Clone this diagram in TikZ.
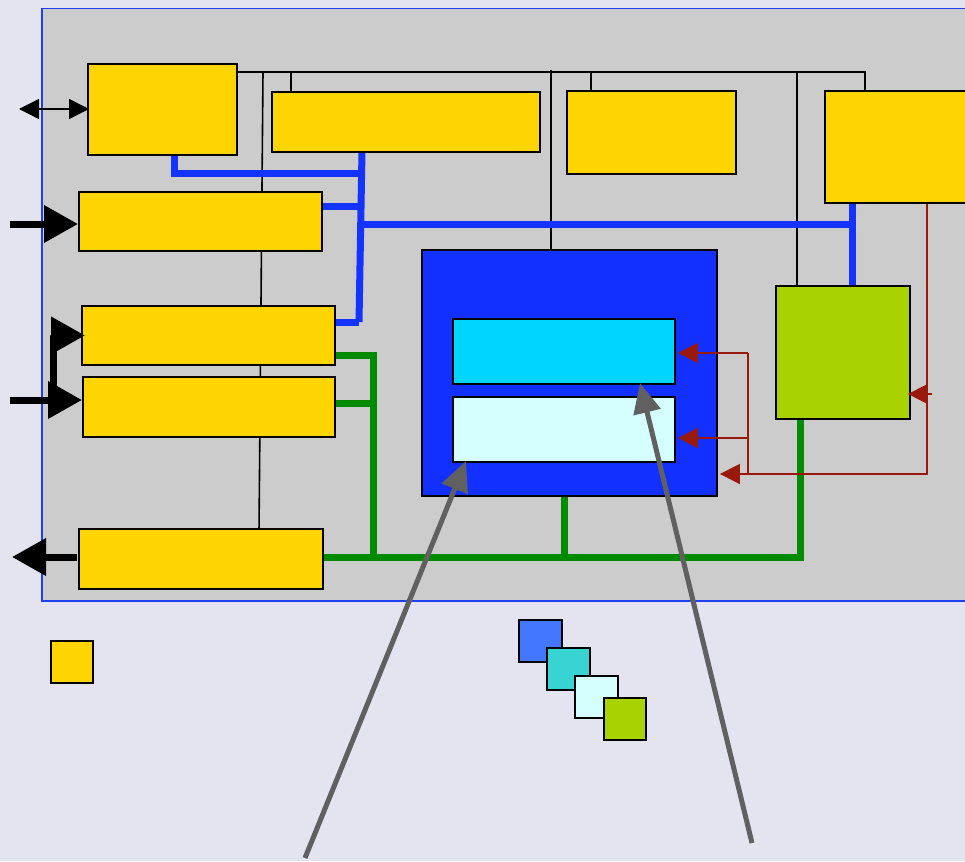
\documentclass[tikz,border=0pt]{standalone}
\usetikzlibrary{arrows.meta,calc}
\definecolor{bg}{HTML}{E4E4F0}
\definecolor{panelgrey}{HTML}{CCCCCC}
\definecolor{panelblue}{HTML}{2040F0}
\definecolor{yel}{HTML}{FFD500}
\definecolor{bigblue}{HTML}{1230FF}
\definecolor{cyanbox}{HTML}{00D5FF}
\definecolor{palecyan}{HTML}{D5FFFF}
\definecolor{lime}{HTML}{A8D200}
\definecolor{busblue}{HTML}{1433FF}
\definecolor{busgreen}{HTML}{008A00}
\definecolor{darkred}{HTML}{991A0A}
\definecolor{arrowgrey}{HTML}{606060}
\definecolor{legblue}{HTML}{4477FF}
\definecolor{legteal}{HTML}{38D4D4}
\begin{document}
\begin{tikzpicture}[x=1pt,y=-1pt,
  blk/.style={draw=black,line width=1.9pt,inner sep=0pt,anchor=north west},
  ybox/.style={blk,fill=yel},
  thinbus/.style={draw=black,line width=1.6pt},
  bluebus/.style={draw=busblue,line width=7pt},
  greenbus/.style={draw=busgreen,line width=7pt},
  redline/.style={draw=darkred,line width=1.7pt},
  redarrow/.style={redline,-{Triangle[length=20pt,width=20pt]}},
  fatarrow/.style={draw=black,line width=7pt,-{Triangle[length=34pt,width=36pt]}},
  greyarrow/.style={draw=arrowgrey,line width=5pt,-{Triangle[length=30pt,width=27pt]}}
]
\useasboundingbox[fill=bg] (0,0) rectangle (965,861);

% panel
\node[draw=panelblue,fill=panelgrey,line width=1.5pt,inner sep=0pt,anchor=north west,
      minimum width=940pt,minimum height=592pt] (P) at (41,8) {};

% helper coordinates
\coordinate (busL) at (263,72);
\coordinate (busR) at (865,72);
\coordinate (busB) at (259,532);
\coordinate (ja) at (174,173);
\coordinate (jb) at (361,173);
\coordinate (jbt) at (362,151);
\coordinate (jf) at (359,322);
\coordinate (jh1) at (361,224);
\coordinate (jh2) at (852,224);
\coordinate (g1) at (373,355);
\coordinate (g2) at (373,403);
\coordinate (g3) at (373,557);
\coordinate (g4) at (564,557);
\coordinate (g5) at (800,557);
\coordinate (r1) at (748,353);
\coordinate (r2) at (748,438);
\coordinate (r3) at (748,474);
\coordinate (r4) at (927,474);
\coordinate (r6) at (932,394);
\coordinate (dstart) at (19,109);
\coordinate (e0) at (10,224);
\coordinate (g0) at (10,400);
\coordinate (f0) at (53,398);
\coordinate (h0) at (12,557);
\coordinate (ga) at (305,858);
\coordinate (gb) at (752,843);

% boxes (defined first for anchors, drawn again later on top)
\path
  node[ybox,minimum width=149pt,minimum height=91pt] (A) at (87,63) {}
  node[ybox,minimum width=268pt,minimum height=60pt] (B) at (271,91) {}
  node[ybox,minimum width=169pt,minimum height=83pt] (C) at (566,90) {}
  node[ybox,minimum width=150pt,minimum height=112pt] (D) at (824,90) {}
  node[ybox,minimum width=243pt,minimum height=59pt] (E) at (78,191) {}
  node[ybox,minimum width=253pt,minimum height=59pt] (F) at (81,305) {}
  node[ybox,minimum width=252pt,minimum height=60pt] (G) at (82,376) {}
  node[ybox,minimum width=244pt,minimum height=60pt] (H) at (78,528) {}
  node[blk,fill=bigblue,minimum width=295pt,minimum height=246pt] (M) at (421,249) {}
  node[blk,fill=lime,minimum width=134pt,minimum height=133pt] (L) at (775,285) {};

% thin black bus
\draw[thinbus] (A.east |- busL) -- (busR) -- (busR |- D.north);
\draw[thinbus] (busL) -- (busB);
\draw[thinbus] (291,72) -- (291,93);
\draw[thinbus] (591,72) -- (C.north -| 591,0);
\draw[thinbus] (551,70) -- (M.north -| 551,0);
\draw[thinbus] (797,72) -- (L.north -| 797,0);

% blue bus
\draw[bluebus] (A.south -| ja) -- (ja) -- (jb);
\draw[bluebus] (jbt) -- (jf);
\draw[bluebus] (E.east |- 0,206) -- (361,206);
\draw[bluebus] (F.east |- jf) -- (jf);
\draw[bluebus] (jh1) -- (jh2);
\draw[bluebus] (D.south -| jh2) -- (L.north -| jh2);

% green bus
\draw[greenbus] (F.east |- g1) -- (g1) -- (g3);
\draw[greenbus] (G.east |- g2) -- (g2);
\draw[greenbus] (H.east |- g3) -- (g5) -- (L.south -| g5);
\draw[greenbus] (M.south -| g4) -- (g4);

% boxes on top
\path
  node[ybox,minimum width=149pt,minimum height=91pt] at (87,63) {}
  node[ybox,minimum width=268pt,minimum height=60pt] at (271,91) {}
  node[ybox,minimum width=169pt,minimum height=83pt] at (566,90) {}
  node[ybox,minimum width=150pt,minimum height=112pt] at (824,90) {}
  node[ybox,minimum width=243pt,minimum height=59pt] at (78,191) {}
  node[ybox,minimum width=253pt,minimum height=59pt] at (81,305) {}
  node[ybox,minimum width=252pt,minimum height=60pt] at (82,376) {}
  node[ybox,minimum width=244pt,minimum height=60pt] at (78,528) {}
  node[blk,fill=bigblue,minimum width=295pt,minimum height=246pt] at (421,249) {}
  node[blk,fill=lime,minimum width=134pt,minimum height=133pt] at (775,285) {};
\node[blk,fill=cyanbox,minimum width=222pt,minimum height=65pt] (M1) at (452,318) {};
\node[blk,fill=palecyan,minimum width=222pt,minimum height=65pt] (M2) at (452,396) {};

% legend
\node[ybox,minimum width=42pt,minimum height=42pt] (K) at (50,640) {};
\node[blk,fill=legblue,minimum width=43pt,minimum height=42pt] (K1) at (518,619) {};
\node[blk,fill=legteal,minimum width=43pt,minimum height=42pt] (K2) at (546,647) {};
\node[blk,fill=palecyan,minimum width=43pt,minimum height=42pt] (K3) at (574,675) {};
\node[blk,fill=lime,minimum width=42pt,minimum height=42pt] (K4) at (603,697) {};

% red control lines
\draw[redline] (r1) -- (r3);
\draw[redarrow] (r1) -- ([xshift=2pt]M1.east |- r1);
\draw[redarrow] (r2) -- ([xshift=2pt]M2.east |- r2);
\draw[redarrow] (D.south -| r4) -- (r4) -- ([xshift=2pt]M.east |- r4);
\draw[redarrow] (r6) -- ([xshift=-3pt]L.east |- r6);

% black I/O arrows
\draw[draw=black,line width=1.4pt,{Triangle[length=20pt,width=20pt]}-{Triangle[length=20pt,width=20pt]}]
  (dstart) -- ([xshift=2pt]A.west |- dstart);
\draw[fatarrow] (e0) -- (E.west |- e0);
\draw[fatarrow] (g0) -- (G.west |- g0);
\draw[fatarrow] (f0) |- ([xshift=4pt]F.west);
\draw[fatarrow] ([xshift=-1pt]H.west |- h0) -- (h0);

% grey pointer arrows
\draw[greyarrow] (ga) -- (466,461);
\draw[greyarrow] (gb) -- (640,383);
\end{tikzpicture}
\end{document}
